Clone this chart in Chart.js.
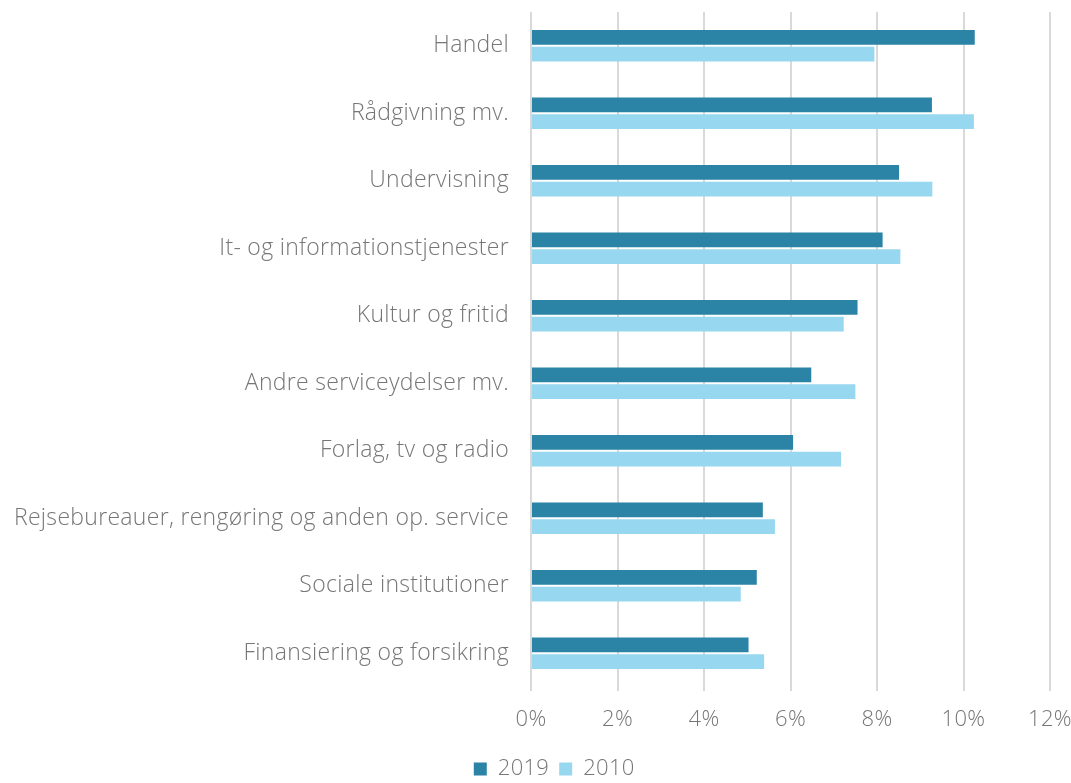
<!DOCTYPE html>
<html lang="da">
<head>
<meta charset="utf-8">
<title>Brancher 2019 og 2010</title>
<script src="https://cdn.jsdelivr.net/npm/chart.js@4.4.1/dist/chart.umd.min.js"></script>
<style>
  html, body { margin: 0; padding: 0; background: #ffffff; overflow: hidden; }
  #wrap { width: 1071px; height: 783px; position: relative; }
  #chart { display: block; }
</style>
</head>
<body>
<div id="wrap"><canvas id="chart" width="1071" height="783"></canvas></div>
<script>
// Brancher (kategorier) og andele i procent
const categories = [
    'Handel',
    'Rådgivning mv.',
    'Undervisning',
    'It- og informationstjenester',
    'Kultur og fritid',
    'Andre serviceydelser mv.',
    'Forlag, tv og radio',
    'Rejsebureauer, rengøring og anden op. service',
    'Sociale institutioner',
    'Finansiering og forsikring'
];
const values2019 = [10.26, 9.27, 8.51, 8.13, 7.55, 6.48, 6.06, 5.36, 5.22, 5.03];
const values2010 = [7.94, 10.24, 9.28, 8.54, 7.23, 7.50, 7.17, 5.64, 4.85, 5.39];
const tickValues = [0, 2, 4, 6, 8, 10, 12];

const FONT = "'Open Sans', 'Lato', sans-serif";
const TEXT_COLOR = '#767676';

const canvas = document.getElementById('chart');

// flytter forklaringen lidt mod højre
const legendShift = {
    id: 'legendShift',
    afterUpdate(chart) {
        chart.legend.left += 28;
        chart.legend.right += 28;
    }
};

// lidt luft mellem bogstaverne i al tekst
const letterSpacing = {
    id: 'letterSpacing',
    beforeDraw(chart) {
        chart.ctx.letterSpacing = '0.3px';
    }
};

new Chart(canvas, {
    type: 'bar',
    data: {
        labels: categories,
        datasets: [
            {
                label: '2019',
                data: values2019,
                backgroundColor: '#2b83a6',
                borderWidth: 0,
                barPercentage: 0.88,
                categoryPercentage: 0.5
            },
            {
                label: '2010',
                data: values2010,
                backgroundColor: '#98d7f0',
                borderWidth: 0,
                barPercentage: 0.88,
                categoryPercentage: 0.5
            }
        ]
    },
    plugins: [legendShift, letterSpacing],
    options: {
        indexAxis: 'y',
        responsive: false,
        animation: false,
        layout: {
            autoPadding: false,
            padding: { top: 12, right: 21, bottom: -7, left: 0 }
        },
        plugins: {
            legend: {
                position: 'bottom',
                labels: {
                    color: TEXT_COLOR,
                    font: { family: FONT, size: 22, weight: '300' },
                    boxWidth: 13,
                    boxHeight: 13,
                    padding: 10
                }
            },
            tooltip: { enabled: false }
        },
        scales: {
            x: {
                min: 0,
                max: 12,
                afterBuildTicks: (scale) => {
                    scale.ticks = tickValues.map(v => ({ value: v }));
                },
                afterFit: (scale) => {
                    // fast højde, ingen ekstra plads til yderste etiketter
                    scale.height = 61;
                    scale.paddingLeft = 0;
                    scale.paddingRight = 0;
                },
                grid: {
                    color: '#d9d9d9',
                    lineWidth: 2,
                    drawTicks: true,
                    tickLength: 4,
                    tickColor: '#d9d9d9'
                },
                border: { display: false },
                ticks: {
                    padding: 16,
                    color: TEXT_COLOR,
                    font: { family: FONT, size: 22, weight: '300' },
                    callback: (v) => v + '%'
                }
            },
            y: {
                afterFit: (scale) => {
                    scale.width = 531;
                    scale.paddingTop = 0;
                    scale.paddingBottom = 0;
                },
                grid: { display: false, drawTicks: false },
                border: { display: false },
                ticks: {
                    padding: 22,
                    color: TEXT_COLOR,
                    font: { family: FONT, size: 23, weight: '300' }
                }
            }
        }
    }
});
</script>
</body>
</html>
